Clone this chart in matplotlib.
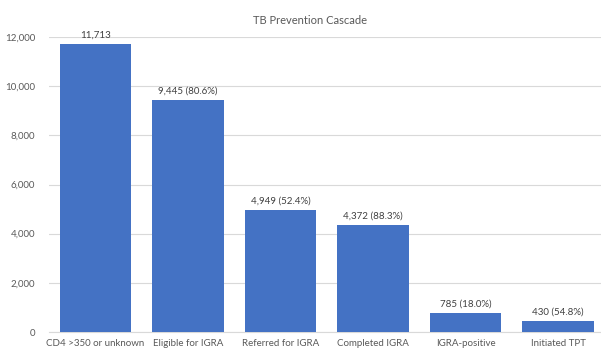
import matplotlib
matplotlib.use("Agg")
import matplotlib.pyplot as plt

categories = ["CD4 >350 or unknown", "Eligible for IGRA", "Referred for IGRA",
              "Completed IGRA", "IGRA-positive", "Initiated TPT"]
values = [11713, 9445, 4949, 4372, 785, 430]
labels = ["11,713", "9,445 (80.6%)", "4,949 (52.4%)", "4,372 (88.3%)",
          "785 (18.0%)", "430 (54.8%)"]
yticks = [0, 2000, 4000, 6000, 8000, 10000, 12000]

plt.rcParams['font.family'] = ['Lato', 'DejaVu Sans']
txt = '#595959'

fig = plt.figure(figsize=(6.01, 3.5), dpi=100)
ax = fig.add_axes([49.25/601, 18/350, 555/601, 295/350])
ax.bar(range(len(categories)), values, width=0.77, color='#4472C4', zorder=3)
ax.set_xlim(-0.5, 5.5)
ax.set_ylim(0, 12000)
ax.set_yticks(yticks)
ax.set_yticklabels([f"{v:,}" for v in yticks])
ax.set_xticks(range(len(categories)))
ax.set_xticklabels(categories)
ax.tick_params(axis='both', length=0, labelsize=7, colors=txt)
ax.tick_params(axis='y', pad=10)
ax.tick_params(axis='x', pad=5)
ax.grid(axis='y', color='#D9D9D9', linewidth=0.8, zorder=0)
for s in ['top', 'right', 'left']:
    ax.spines[s].set_visible(False)
ax.spines['bottom'].set_color('#D9D9D9')
for i, (v, l) in enumerate(zip(values, labels)):
    ax.text(i, v + 180, l, ha='center', va='bottom', fontsize=7, color='#404040', clip_on=False)
fig.text(310/601, 1 - 20/350, "TB Prevention Cascade", ha='center', va='center', fontsize=8, color=txt)
fig.savefig("out.png", dpi=100)
